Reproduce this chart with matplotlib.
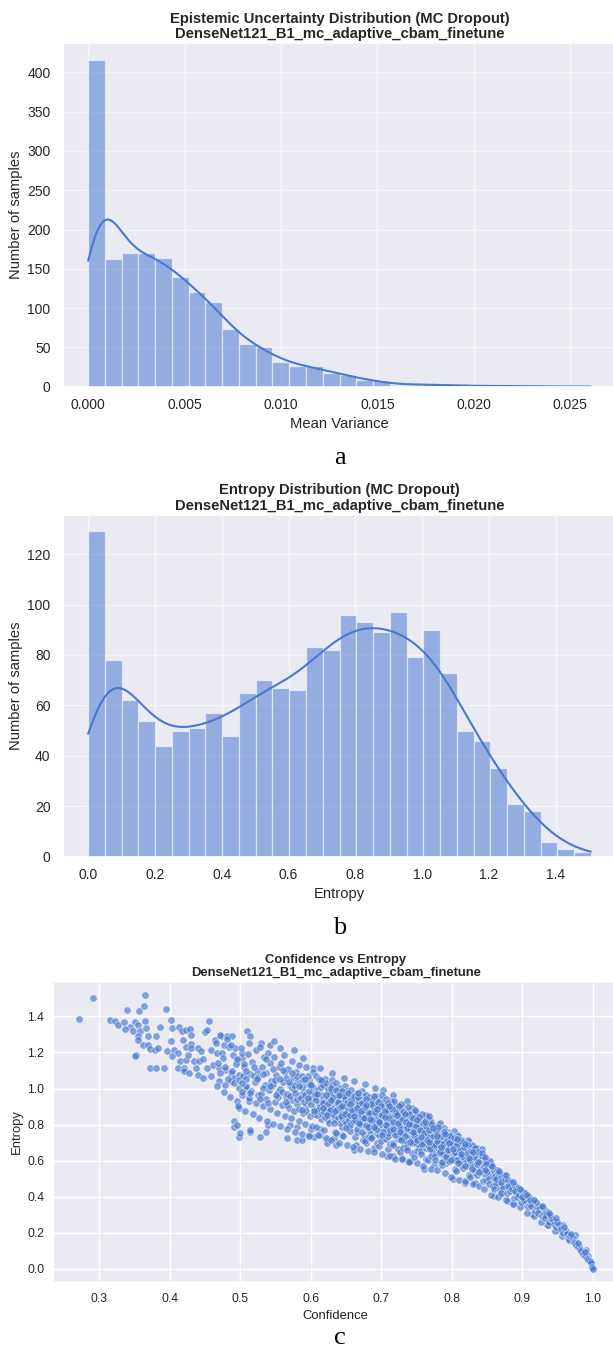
import numpy as np
import matplotlib
matplotlib.use("Agg")
import matplotlib.pyplot as plt
import seaborn as sns

# ---------------- data ----------------
var_edges_max = 0.02607          # largest mean variance (bins from 0 to this)
var_counts = [416, 162, 170, 170, 164, 140, 121, 108, 73, 55, 50, 31, 27, 26, 18,
              15, 8, 7, 2, 2, 4, 2, 1, 1, 1, 1, 1, 0, 0, 1]

ent_edges_max = 1.505            # largest entropy
ent_counts = [129, 78, 62, 54, 44, 50, 51, 57, 48, 65, 70, 67, 66, 83, 82,
              96, 93, 89, 97, 79, 90, 73, 50, 46, 35, 21, 18, 6, 3, 2]

scatter_left = [
    (0.271, 1.387), (0.292, 1.502), (0.316, 1.380), (0.322, 1.376), (0.327, 1.354),
    (0.335, 1.369), (0.340, 1.435), (0.351, 1.369), (0.344, 1.339), (0.337, 1.330),
    (0.357, 1.428), (0.364, 1.456), (0.365, 1.517), (0.365, 1.372), (0.355, 1.354),
    (0.348, 1.317), (0.358, 1.317), (0.355, 1.289), (0.366, 1.335), (0.369, 1.289),
    (0.356, 1.270), (0.362, 1.243), (0.369, 1.243), (0.353, 1.187), (0.351, 1.181),
    (0.373, 1.220), (0.372, 1.113), (0.381, 1.113), (0.379, 1.215), (0.384, 1.224),
    (0.381, 1.289), (0.387, 1.339), (0.395, 1.441), (0.402, 1.378), (0.404, 1.335),
    (0.397, 1.209), (0.392, 1.113), (0.402, 1.261), (0.407, 1.211), (0.414, 1.339),
    (0.417, 1.317), (0.423, 1.322), (0.429, 1.331), (0.431, 1.298), (0.419, 1.270),
    (0.423, 1.233), (0.431, 1.246), (0.412, 1.196), (0.404, 1.178), (0.412, 1.113),
    (0.420, 1.113), (0.415, 1.150), (0.423, 1.159), (0.426, 1.187), (0.431, 1.224),
    (0.420, 1.098), (0.428, 1.085), (0.437, 1.113), (0.434, 1.150), (0.442, 1.150),
    (0.448, 1.165), (0.450, 1.311), (0.453, 1.322), (0.456, 1.372), (0.440, 1.224),
    (0.445, 1.209), (0.459, 1.215), (0.467, 1.196), (0.464, 1.270), (0.473, 1.289),
    (0.477, 1.243), (0.481, 1.293), (0.489, 1.289), (0.493, 1.224), (0.453, 1.113),
    (0.462, 1.131), (0.470, 1.113), (0.478, 1.104), (0.487, 1.085), (0.440, 1.076),
    (0.448, 1.057), (0.459, 1.067), (0.470, 1.039), (0.478, 1.020), (0.487, 1.039),
    (0.492, 1.057), (0.499, 1.076), (0.495, 1.150), (0.503, 1.169), (0.503, 1.196),
    (0.498, 1.002), (0.503, 0.965), (0.495, 0.928), (0.499, 0.891), (0.509, 1.002),
    (0.512, 0.928), (0.492, 0.817), (0.491, 0.789), (0.514, 0.761),
]

scatter_outliers = [
    (0.495, 0.796), (0.499, 0.733), (0.500, 0.751), (0.514, 0.769), (0.528, 0.733),
    (0.536, 0.760), (0.539, 0.796), (0.567, 0.727), (0.581, 0.715), (0.587, 0.715),
    (0.570, 0.796), (0.581, 0.787), (0.597, 0.742), (0.600, 0.778), (0.605, 0.733),
    (0.613, 0.742), (0.613, 0.778), (0.625, 0.715), (0.633, 0.724), (0.636, 0.687),
    (0.623, 0.696), (0.644, 0.742), (0.661, 0.660), (0.664, 0.687), (0.678, 0.696),
    (0.689, 0.669), (0.708, 0.624), (0.716, 0.624), (0.730, 0.615), (0.738, 0.600),
    (0.741, 0.596), (0.761, 0.555), (0.775, 0.573), (0.791, 0.587), (0.802, 0.496),
    (0.819, 0.478), (0.833, 0.478), (0.860, 0.405), (0.869, 0.414), (0.880, 0.378),
    (0.888, 0.360), (0.902, 0.360), (0.913, 0.305), (0.935, 0.242), (0.952, 0.215),
    (0.968, 0.178), (0.980, 0.133), (0.990, 0.087), (0.999, 0.005),
    (0.510, 1.317), (0.514, 1.289), (0.530, 1.252), (0.542, 1.239), (0.548, 1.261),
    (0.557, 1.224), (0.576, 1.215), (0.589, 1.169), (0.603, 1.113), (0.613, 1.113),
    (0.630, 1.085), (0.647, 1.057), (0.661, 1.039), (0.677, 1.026), (0.691, 1.002),
    (0.703, 0.993), (0.716, 0.965), (0.736, 0.928), (0.744, 0.891), (0.763, 0.854),
    (0.780, 0.796), (0.808, 0.742), (0.824, 0.705), (0.841, 0.633), (0.858, 0.542),
    (0.874, 0.505), (0.891, 0.460), (0.907, 0.396), (0.924, 0.333), (0.941, 0.287),
    (0.957, 0.242), (0.974, 0.187), (0.990, 0.105),
]

scatter_mid = [
    (0.467, 1.013), (0.472, 1.087), (0.469, 1.142), (0.474, 1.196), (0.466, 1.251), (0.471, 1.298),
    (0.477, 0.982), (0.483, 1.054), (0.479, 1.118), (0.476, 1.167), (0.484, 1.229), (0.481, 1.274),
    (0.486, 0.953), (0.492, 1.031), (0.488, 1.096), (0.494, 1.138), (0.490, 1.187), (0.487, 1.242),
    (0.497, 0.905), (0.503, 0.982), (0.499, 1.045), (0.505, 1.121), (0.496, 1.163), (0.501, 1.226),
    (0.504, 1.067),
    (0.507, 0.874), (0.512, 0.947), (0.509, 1.013), (0.514, 1.079), (0.506, 1.134), (0.511, 1.193),
    (0.513, 1.254), (0.508, 1.052),
    (0.518, 0.856), (0.523, 0.919), (0.516, 0.988), (0.521, 1.036), (0.524, 1.097), (0.517, 1.148),
    (0.522, 1.211), (0.519, 1.071), (0.525, 0.963),
    (0.527, 0.838), (0.533, 0.902), (0.529, 0.971), (0.535, 1.018), (0.526, 1.062), (0.531, 1.117),
    (0.534, 1.173), (0.528, 1.229), (0.532, 1.004),
    (0.538, 0.817), (0.543, 0.886), (0.536, 0.944), (0.541, 0.992), (0.544, 1.041), (0.537, 1.088),
    (0.542, 1.139), (0.539, 1.196), (0.545, 1.015), (0.540, 0.921),
    (0.547, 0.803), (0.552, 0.862), (0.549, 0.925), (0.554, 0.978), (0.546, 1.027), (0.551, 1.073),
    (0.555, 1.121), (0.548, 1.177), (0.553, 0.951), (0.550, 1.046),
    (0.557, 0.792), (0.563, 0.848), (0.559, 0.907), (0.565, 0.955), (0.556, 0.996), (0.561, 1.038),
    (0.564, 1.092), (0.558, 1.143), (0.562, 1.186), (0.560, 0.981), (0.565, 1.061),
    (0.567, 0.776), (0.572, 0.839), (0.569, 0.893), (0.574, 0.934), (0.566, 0.972), (0.571, 1.017),
    (0.575, 1.059), (0.568, 1.106), (0.573, 1.152), (0.570, 0.958), (0.574, 1.004), (0.566, 0.911),
    (0.578, 0.758), (0.583, 0.821), (0.576, 0.874), (0.581, 0.916), (0.585, 0.962), (0.577, 0.998),
    (0.582, 1.043), (0.579, 1.089), (0.584, 1.131), (0.580, 0.941), (0.576, 1.021), (0.583, 0.887),
    (0.581, 1.068),
    (0.587, 0.745), (0.592, 0.803), (0.589, 0.862), (0.594, 0.905), (0.586, 0.946), (0.591, 0.983),
    (0.595, 1.027), (0.588, 1.072), (0.593, 1.118), (0.590, 0.927), (0.587, 1.006), (0.594, 0.876),
    (0.589, 1.049), (0.592, 0.962),
    (0.597, 0.738), (0.602, 0.792), (0.599, 0.847), (0.604, 0.889), (0.596, 0.928), (0.601, 0.967),
    (0.605, 1.004), (0.598, 1.046), (0.603, 1.089), (0.600, 0.912), (0.597, 0.987), (0.604, 0.861),
    (0.599, 1.026), (0.602, 0.948), (0.596, 1.067),
    (0.611, 0.741), (0.607, 0.786), (0.614, 0.833), (0.609, 0.874), (0.612, 0.916), (0.606, 0.953),
    (0.610, 0.989), (0.615, 1.028), (0.608, 1.072), (0.613, 0.897), (0.606, 0.972), (0.609, 0.851),
    (0.614, 1.011), (0.607, 0.936), (0.612, 1.051), (0.610, 0.878),
    (0.622, 0.728), (0.619, 0.769), (0.625, 0.823), (0.616, 0.858), (0.621, 0.905), (0.618, 0.934),
    (0.624, 0.981), (0.617, 1.017), (0.620, 1.052), (0.623, 0.889), (0.616, 0.963), (0.620, 0.843),
    (0.625, 0.999), (0.617, 0.917), (0.622, 1.033), (0.619, 0.872), (0.624, 0.948),
    (0.629, 0.712), (0.634, 0.758), (0.626, 0.811), (0.632, 0.851), (0.628, 0.884), (0.635, 0.922),
    (0.627, 0.968), (0.633, 0.994), (0.630, 1.046), (0.626, 0.869), (0.631, 0.941), (0.634, 0.829),
    (0.628, 0.978), (0.635, 0.903), (0.630, 1.019), (0.632, 0.857), (0.627, 0.927), (0.633, 0.892),
    (0.640, 0.698), (0.636, 0.755), (0.644, 0.789), (0.638, 0.839), (0.642, 0.871), (0.637, 0.916),
    (0.643, 0.953), (0.641, 0.979), (0.636, 1.031), (0.645, 0.861), (0.639, 0.934), (0.641, 0.811),
    (0.644, 0.972), (0.637, 0.889), (0.642, 1.004), (0.645, 0.838), (0.639, 0.913), (0.643, 0.879),
    (0.638, 0.959),
    (0.651, 0.687), (0.646, 0.734), (0.654, 0.784), (0.648, 0.819), (0.652, 0.866), (0.650, 0.893),
    (0.647, 0.939), (0.655, 0.963), (0.649, 1.015), (0.653, 0.842), (0.646, 0.921), (0.650, 0.806),
    (0.655, 0.947), (0.648, 0.882), (0.651, 0.988), (0.654, 0.826), (0.647, 0.905), (0.652, 0.869),
    (0.649, 0.944), (0.653, 0.884),
    (0.660, 0.673), (0.663, 0.731), (0.656, 0.766), (0.664, 0.814), (0.658, 0.845), (0.662, 0.889),
    (0.659, 0.917), (0.665, 0.951), (0.657, 0.992), (0.661, 0.836), (0.664, 0.907), (0.656, 0.796),
    (0.662, 0.941), (0.658, 0.862), (0.665, 0.973), (0.660, 0.819), (0.657, 0.887), (0.663, 0.856),
    (0.659, 0.924), (0.661, 0.871),
    (0.670, 0.667), (0.674, 0.713), (0.666, 0.761), (0.672, 0.796), (0.668, 0.841), (0.675, 0.868),
    (0.671, 0.912), (0.667, 0.938), (0.673, 0.986), (0.669, 0.824), (0.675, 0.884), (0.666, 0.778),
    (0.672, 0.927), (0.668, 0.849), (0.674, 0.959), (0.670, 0.803), (0.667, 0.873), (0.673, 0.835),
    (0.669, 0.916), (0.671, 0.858), (0.675, 0.744),
    (0.681, 0.655), (0.677, 0.708), (0.684, 0.743), (0.679, 0.791), (0.683, 0.821), (0.676, 0.863),
    (0.680, 0.891), (0.685, 0.934), (0.678, 0.964), (0.682, 0.811), (0.676, 0.879), (0.684, 0.766),
    (0.680, 0.907), (0.677, 0.838), (0.683, 0.952), (0.679, 0.797), (0.685, 0.868), (0.681, 0.829),
    (0.678, 0.896), (0.684, 0.851), (0.682, 0.729), (0.676, 0.921),
    (0.689, 0.648), (0.694, 0.697), (0.687, 0.733), (0.692, 0.779), (0.686, 0.815), (0.695, 0.843),
    (0.690, 0.885), (0.688, 0.911), (0.693, 0.958), (0.691, 0.793), (0.686, 0.866), (0.694, 0.755),
    (0.688, 0.902), (0.692, 0.826), (0.687, 0.939), (0.695, 0.784), (0.690, 0.854), (0.693, 0.809),
    (0.689, 0.881), (0.691, 0.839), (0.686, 0.725), (0.694, 0.906),
]

scatter_core = [
    (0.701, 0.634), (0.697, 0.682), (0.704, 0.724), (0.699, 0.763), (0.703, 0.799), (0.696, 0.834),
    (0.700, 0.868), (0.705, 0.901), (0.698, 0.938), (0.702, 0.783), (0.704, 0.851), (0.697, 0.744),
    (0.701, 0.884), (0.699, 0.816), (0.703, 0.921), (0.696, 0.768), (0.705, 0.839), (0.698, 0.801),
    (0.702, 0.873), (0.697, 0.824), (0.700, 0.709), (0.704, 0.889), (0.701, 0.962), (0.698, 0.857),
    (0.713, 0.628), (0.709, 0.664), (0.706, 0.719), (0.712, 0.747), (0.715, 0.792), (0.708, 0.817),
    (0.711, 0.861), (0.707, 0.884), (0.714, 0.931), (0.706, 0.775), (0.712, 0.833), (0.710, 0.738),
    (0.708, 0.866), (0.714, 0.808), (0.711, 0.902), (0.709, 0.752), (0.713, 0.829), (0.706, 0.783),
    (0.715, 0.855), (0.708, 0.815), (0.712, 0.692), (0.710, 0.879), (0.707, 0.943), (0.711, 0.846),
    (0.719, 0.611), (0.724, 0.663), (0.716, 0.697), (0.722, 0.742), (0.718, 0.771), (0.725, 0.813),
    (0.720, 0.839), (0.717, 0.879), (0.723, 0.908), (0.721, 0.761), (0.716, 0.828), (0.724, 0.718),
    (0.718, 0.855), (0.722, 0.796), (0.717, 0.897), (0.725, 0.747), (0.720, 0.809), (0.723, 0.781),
    (0.719, 0.851), (0.721, 0.795), (0.716, 0.684), (0.724, 0.866), (0.718, 0.929), (0.722, 0.827),
    (0.730, 0.607), (0.726, 0.645), (0.733, 0.693), (0.728, 0.724), (0.734, 0.765), (0.727, 0.792),
    (0.731, 0.833), (0.735, 0.859), (0.729, 0.901), (0.732, 0.742), (0.726, 0.816), (0.733, 0.706),
    (0.728, 0.841), (0.735, 0.774), (0.730, 0.882), (0.727, 0.728), (0.734, 0.798), (0.729, 0.761),
    (0.732, 0.837), (0.726, 0.783), (0.731, 0.669), (0.735, 0.848), (0.728, 0.914), (0.733, 0.821),
    (0.739, 0.593), (0.744, 0.641), (0.736, 0.673), (0.742, 0.718), (0.737, 0.745), (0.745, 0.786),
    (0.740, 0.811), (0.738, 0.851), (0.743, 0.877), (0.741, 0.737), (0.736, 0.797), (0.744, 0.699),
    (0.738, 0.828), (0.742, 0.762), (0.737, 0.867), (0.745, 0.715), (0.740, 0.783), (0.743, 0.754),
    (0.739, 0.824), (0.741, 0.769), (0.736, 0.658), (0.744, 0.834), (0.738, 0.898), (0.742, 0.806),
    (0.750, 0.586), (0.746, 0.622), (0.753, 0.668), (0.748, 0.698), (0.754, 0.739), (0.747, 0.764),
    (0.751, 0.804), (0.755, 0.827), (0.749, 0.868), (0.752, 0.716), (0.746, 0.781), (0.753, 0.687),
    (0.748, 0.812), (0.755, 0.748), (0.750, 0.851), (0.747, 0.702), (0.754, 0.777), (0.749, 0.733),
    (0.752, 0.809), (0.746, 0.755), (0.751, 0.651), (0.755, 0.819), (0.748, 0.881), (0.753, 0.792),
    (0.759, 0.571), (0.764, 0.609), (0.756, 0.654), (0.762, 0.684), (0.757, 0.725), (0.765, 0.749),
    (0.760, 0.788), (0.758, 0.811), (0.763, 0.849), (0.761, 0.702), (0.756, 0.766), (0.764, 0.672),
    (0.758, 0.796), (0.762, 0.734), (0.757, 0.834), (0.765, 0.688), (0.760, 0.761), (0.763, 0.719),
    (0.759, 0.792), (0.761, 0.741), (0.756, 0.638), (0.764, 0.803), (0.758, 0.861), (0.762, 0.776),
    (0.770, 0.556), (0.766, 0.604), (0.773, 0.635), (0.768, 0.676), (0.774, 0.703), (0.767, 0.741),
    (0.771, 0.764), (0.775, 0.799), (0.769, 0.823), (0.772, 0.692), (0.766, 0.749), (0.773, 0.658),
    (0.768, 0.784), (0.775, 0.718), (0.770, 0.814), (0.767, 0.679), (0.774, 0.744), (0.769, 0.709),
    (0.772, 0.768), (0.766, 0.731), (0.771, 0.624), (0.775, 0.791), (0.768, 0.846),
    (0.779, 0.549), (0.784, 0.585), (0.776, 0.627), (0.782, 0.655), (0.777, 0.692), (0.785, 0.716),
    (0.780, 0.751), (0.778, 0.773), (0.783, 0.806), (0.781, 0.669), (0.776, 0.736), (0.784, 0.638),
    (0.778, 0.758), (0.782, 0.706), (0.777, 0.786), (0.785, 0.661), (0.780, 0.719), (0.783, 0.685),
    (0.779, 0.748), (0.781, 0.712), (0.776, 0.604), (0.784, 0.771),
    (0.790, 0.529), (0.786, 0.577), (0.793, 0.606), (0.788, 0.644), (0.794, 0.669), (0.787, 0.704),
    (0.791, 0.726), (0.795, 0.759), (0.789, 0.779), (0.792, 0.653), (0.786, 0.711), (0.793, 0.627),
    (0.788, 0.744), (0.795, 0.683), (0.790, 0.766), (0.787, 0.638), (0.794, 0.706), (0.789, 0.674),
    (0.792, 0.734), (0.786, 0.594),
    (0.799, 0.511), (0.804, 0.555), (0.796, 0.596), (0.802, 0.621), (0.797, 0.657), (0.805, 0.679),
    (0.800, 0.712), (0.798, 0.731), (0.803, 0.764), (0.801, 0.635), (0.796, 0.691), (0.804, 0.604),
    (0.798, 0.724), (0.802, 0.669), (0.797, 0.743), (0.805, 0.625), (0.800, 0.686), (0.803, 0.649),
    (0.799, 0.709),
    (0.810, 0.493), (0.806, 0.544), (0.813, 0.573), (0.808, 0.609), (0.814, 0.632), (0.807, 0.665),
    (0.811, 0.685), (0.815, 0.716), (0.809, 0.735), (0.812, 0.617), (0.806, 0.676), (0.813, 0.592),
    (0.808, 0.704), (0.815, 0.645), (0.810, 0.722), (0.807, 0.601), (0.814, 0.664),
    (0.819, 0.484), (0.824, 0.521), (0.816, 0.561), (0.822, 0.584), (0.817, 0.618), (0.825, 0.638),
    (0.820, 0.669), (0.818, 0.688), (0.823, 0.717), (0.821, 0.598), (0.816, 0.656), (0.824, 0.568),
    (0.818, 0.677), (0.822, 0.631), (0.817, 0.705), (0.825, 0.582),
    (0.830, 0.469), (0.826, 0.511), (0.833, 0.536), (0.828, 0.571), (0.834, 0.591), (0.827, 0.622),
    (0.831, 0.641), (0.835, 0.668), (0.829, 0.685), (0.832, 0.578), (0.826, 0.634), (0.833, 0.549),
    (0.828, 0.659), (0.835, 0.603), (0.830, 0.679),
    (0.839, 0.461), (0.844, 0.486), (0.836, 0.522), (0.842, 0.543), (0.837, 0.575), (0.845, 0.593),
    (0.840, 0.621), (0.838, 0.638), (0.843, 0.662), (0.841, 0.556), (0.836, 0.611), (0.844, 0.529),
    (0.838, 0.628), (0.842, 0.585),
]

scatter_dense_extra = [
    (0.621, 0.962), (0.624, 0.912), (0.627, 0.883), (0.629, 1.003), (0.632, 0.951), (0.634, 0.874),
    (0.636, 0.992), (0.638, 0.927), (0.641, 0.897), (0.643, 0.849), (0.645, 0.985), (0.647, 0.958),
    (0.649, 0.861), (0.651, 0.917), (0.653, 0.976), (0.655, 0.851), (0.657, 0.934), (0.659, 0.881),
    (0.661, 0.958), (0.663, 0.827), (0.665, 0.893), (0.667, 0.952), (0.669, 0.806), (0.671, 0.874),
    (0.673, 0.921), (0.675, 0.839), (0.677, 0.896), (0.679, 0.943), (0.681, 0.787), (0.683, 0.866),
    (0.685, 0.912), (0.687, 0.823), (0.689, 0.958), (0.691, 0.871), (0.693, 0.778), (0.695, 0.927),
    (0.697, 0.812), (0.699, 0.905), (0.701, 0.853), (0.703, 0.757), (0.705, 0.877), (0.707, 0.796),
    (0.709, 0.918), (0.711, 0.835), (0.713, 0.772), (0.715, 0.889), (0.717, 0.812), (0.719, 0.744),
    (0.721, 0.869), (0.723, 0.806), (0.725, 0.901), (0.727, 0.758), (0.729, 0.829), (0.731, 0.871),
    (0.733, 0.734), (0.735, 0.813), (0.737, 0.779), (0.739, 0.858), (0.741, 0.702), (0.743, 0.797),
    (0.745, 0.837), (0.747, 0.744), (0.749, 0.791), (0.751, 0.717), (0.753, 0.842), (0.755, 0.769),
    (0.757, 0.691), (0.759, 0.808), (0.761, 0.754), (0.763, 0.794), (0.765, 0.715), (0.767, 0.771),
    (0.769, 0.662), (0.771, 0.803), (0.773, 0.737), (0.775, 0.688), (0.777, 0.762), (0.779, 0.709),
    (0.781, 0.784), (0.783, 0.648), (0.785, 0.737), (0.787, 0.691), (0.789, 0.757), (0.791, 0.618),
    (0.793, 0.713), (0.795, 0.661), (0.797, 0.736), (0.799, 0.603), (0.801, 0.694), (0.803, 0.728),
    (0.805, 0.646), (0.807, 0.689), (0.809, 0.587), (0.811, 0.657), (0.813, 0.707), (0.815, 0.624),
    (0.817, 0.676), (0.819, 0.571), (0.821, 0.643), (0.823, 0.687), (0.825, 0.604), (0.827, 0.652),
    (0.829, 0.556), (0.831, 0.621), (0.833, 0.668), (0.835, 0.583), (0.837, 0.647), (0.839, 0.539),
    (0.841, 0.604), (0.843, 0.626), (0.845, 0.566), (0.847, 0.607), (0.849, 0.518), (0.851, 0.571),
    (0.853, 0.589), (0.855, 0.536), (0.857, 0.561), (0.859, 0.493), (0.861, 0.532), (0.863, 0.549),
    (0.865, 0.477), (0.867, 0.509),
    (0.6225, 0.851), (0.6285, 0.938), (0.6335, 0.806), (0.6395, 0.963), (0.6445, 0.902),
    (0.6505, 0.781), (0.6555, 0.914), (0.6615, 0.846), (0.6665, 0.977), (0.6725, 0.758),
    (0.6785, 0.907), (0.6835, 0.831), (0.6895, 0.789), (0.6945, 0.884), (0.7005, 0.741),
    (0.7055, 0.843), (0.7115, 0.904), (0.7165, 0.773), (0.7225, 0.851), (0.7285, 0.712),
    (0.7335, 0.858), (0.7395, 0.804), (0.7445, 0.761), (0.7505, 0.827), (0.7565, 0.731),
    (0.7625, 0.816), (0.7675, 0.703), (0.7735, 0.781), (0.7795, 0.738), (0.7845, 0.677),
    (0.7905, 0.747), (0.7955, 0.696), (0.8015, 0.662), (0.8075, 0.719), (0.8125, 0.638),
    (0.8185, 0.694), (0.8245, 0.616), (0.8305, 0.647), (0.8365, 0.592), (0.8425, 0.641),
    (0.8485, 0.553), (0.8545, 0.582), (0.8605, 0.519), (0.8665, 0.531), (0.8725, 0.462),
    (0.8785, 0.493), (0.8845, 0.437), (0.8905, 0.452), (0.8965, 0.408), (0.9025, 0.421),
    (0.9085, 0.389), (0.9145, 0.352), (0.9205, 0.361), (0.9265, 0.318), (0.9325, 0.301),
    (0.9385, 0.283), (0.9445, 0.262), (0.9505, 0.238), (0.9565, 0.214), (0.9625, 0.196),
    (0.9685, 0.168), (0.9745, 0.152), (0.9805, 0.124), (0.9865, 0.097), (0.9925, 0.071),
    (0.9975, 0.036),
    (0.503, 1.032), (0.508, 1.098), (0.514, 0.977), (0.519, 1.121), (0.524, 1.052), (0.528, 0.941),
    (0.533, 1.081), (0.537, 1.163), (0.542, 1.012), (0.546, 1.108), (0.551, 0.963), (0.556, 1.054),
    (0.561, 1.102), (0.565, 0.924), (0.569, 1.036), (0.574, 1.087), (0.578, 0.973), (0.583, 1.013),
    (0.587, 0.878), (0.592, 1.051), (0.596, 0.948), (0.601, 1.021), (0.605, 0.875), (0.609, 0.968),
    (0.614, 1.047), (0.618, 0.892),
]

scatter_tail = [
    (0.846, 0.44), (0.848, 0.49), (0.851, 0.52), (0.853, 0.56), (0.849, 0.59), (0.854, 0.60),
    (0.847, 0.62), (0.852, 0.50), (0.850, 0.54), (0.855, 0.57), (0.849, 0.58), (0.853, 0.47),
    (0.847, 0.55),
    (0.856, 0.41), (0.858, 0.46), (0.861, 0.49), (0.863, 0.52), (0.859, 0.54), (0.864, 0.55),
    (0.857, 0.57), (0.862, 0.47), (0.860, 0.51), (0.865, 0.53), (0.859, 0.44), (0.863, 0.50),
    (0.866, 0.40), (0.868, 0.44), (0.871, 0.47), (0.873, 0.49), (0.869, 0.51), (0.874, 0.52),
    (0.867, 0.54), (0.872, 0.45), (0.870, 0.48), (0.875, 0.50), (0.869, 0.42),
    (0.876, 0.38), (0.878, 0.42), (0.881, 0.45), (0.883, 0.47), (0.879, 0.49), (0.884, 0.48),
    (0.877, 0.52), (0.882, 0.43), (0.880, 0.46), (0.885, 0.44),
    (0.886, 0.36), (0.888, 0.39), (0.891, 0.42), (0.893, 0.44), (0.889, 0.46), (0.894, 0.45),
    (0.887, 0.48), (0.892, 0.40), (0.890, 0.43), (0.895, 0.41),
    (0.896, 0.34), (0.898, 0.37), (0.901, 0.39), (0.903, 0.41), (0.899, 0.43), (0.904, 0.42),
    (0.897, 0.44), (0.902, 0.38), (0.900, 0.40),
    (0.906, 0.31), (0.908, 0.34), (0.911, 0.36), (0.913, 0.38), (0.909, 0.40), (0.914, 0.37),
    (0.907, 0.41), (0.912, 0.35), (0.910, 0.38),
    (0.916, 0.29), (0.918, 0.32), (0.921, 0.34), (0.923, 0.35), (0.919, 0.37), (0.924, 0.33),
    (0.917, 0.38), (0.922, 0.31),
    (0.926, 0.26), (0.928, 0.29), (0.931, 0.31), (0.933, 0.32), (0.929, 0.34), (0.934, 0.30),
    (0.927, 0.35), (0.932, 0.28),
    (0.936, 0.24), (0.938, 0.26), (0.941, 0.28), (0.943, 0.27), (0.939, 0.30), (0.944, 0.25),
    (0.937, 0.31),
    (0.946, 0.21), (0.948, 0.23), (0.951, 0.25), (0.953, 0.24), (0.949, 0.26), (0.954, 0.22),
    (0.947, 0.28),
    (0.956, 0.18), (0.958, 0.20), (0.961, 0.21), (0.963, 0.19), (0.959, 0.23), (0.964, 0.17),
    (0.966, 0.16), (0.968, 0.18), (0.971, 0.17), (0.973, 0.15), (0.969, 0.19), (0.974, 0.14),
    (0.976, 0.13), (0.978, 0.12), (0.981, 0.11), (0.983, 0.10), (0.979, 0.14),
    (0.986, 0.08), (0.988, 0.07), (0.991, 0.06), (0.993, 0.05), (0.989, 0.09),
    (0.995, 0.04), (0.997, 0.03), (0.999, 0.01), (1.000, 0.00),
]

model_name = "DenseNet121_B1_mc_adaptive_cbam_finetune"

# ---------------- style ----------------
sns.set_theme(style="darkgrid")
plt.rcParams["font.family"] = ["Liberation Sans", "DejaVu Sans"]
BLUE = "#4878d0"
TXT = "#262626"


def kde_counts(edges, counts, grid, adjust=1.0):
    centers = (edges[:-1] + edges[1:]) / 2
    n = counts.sum()
    mean = (centers * counts).sum() / n
    std = np.sqrt(((centers - mean) ** 2 * counts).sum() / n)
    bw = adjust * std * n ** (-1 / 5)
    width = edges[1] - edges[0]
    z = (grid[:, None] - centers[None, :]) / bw
    dens = (counts[None, :] * np.exp(-0.5 * z ** 2)).sum(axis=1)
    return dens / (bw * np.sqrt(2 * np.pi)) * width


def hist_panel(ax, edges, counts, adjust, title, xlabel):
    counts = np.asarray(counts, dtype=float)
    ax.bar(edges[:-1], counts, width=np.diff(edges), align="edge", color=BLUE,
           alpha=0.53, edgecolor="white", linewidth=0.9)
    grid = np.linspace(edges[0], edges[-1], 400)
    ax.plot(grid, kde_counts(edges, counts, grid, adjust), color=BLUE, lw=1.5)
    ax.set_title(title, fontsize=10.6, fontweight="bold", color=TXT, pad=4, linespacing=1.1)
    ax.set_xlabel(xlabel, fontsize=10.6, color=TXT, labelpad=4)
    ax.set_ylabel("Number of samples", fontsize=10.6, color=TXT, labelpad=3)
    ax.tick_params(axis="both", length=0, labelsize=10, colors=TXT)
    ax.tick_params(axis="x", pad=8)
    ax.tick_params(axis="y", pad=9)
    ax.grid(True, color="white", alpha=0.6, lw=1)


fig = plt.figure(figsize=(6.13, 13.58), dpi=100)

ax1 = fig.add_axes([0.1028, 0.7152, 0.9021, 0.2529])
var_edges = np.linspace(0, var_edges_max, len(var_counts) + 1)
hist_panel(ax1, var_edges, var_counts, 1.25,
           "Epistemic Uncertainty Distribution (MC Dropout)\n" + model_name, "Mean Variance")

ax2 = fig.add_axes([0.1028, 0.3691, 0.9021, 0.2516])
ent_edges = np.linspace(0, ent_edges_max, len(ent_counts) + 1)
hist_panel(ax2, ent_edges, ent_counts, 1.0,
           "Entropy Distribution (MC Dropout)\n" + model_name, "Entropy")

ax3 = fig.add_axes([0.0861, 0.0557, 0.9233, 0.2214])
pts = (scatter_left + scatter_outliers + scatter_mid + scatter_core
       + scatter_dense_extra + scatter_tail)
conf = [p[0] for p in pts]
ent = [p[1] for p in pts]
ax3.scatter(conf, ent, s=28, color=BLUE, alpha=0.66, edgecolor="white", linewidth=0.5)
ax3.set_title("Confidence vs Entropy\n" + model_name, fontsize=9.4, fontweight="bold",
              color=TXT, pad=4, linespacing=1.1)
ax3.set_xlabel("Confidence", fontsize=9.4, color=TXT, labelpad=3)
ax3.set_ylabel("Entropy", fontsize=9.4, color=TXT, labelpad=3)
ax3.tick_params(axis="both", length=0, labelsize=8.7, colors=TXT)
ax3.tick_params(axis="x", pad=8)
ax3.tick_params(axis="y", pad=6)
ax3.grid(True, color="white", lw=1)

for label, y in (("a", 458), ("b", 928), ("c", 1338)):
    fig.text(0.5546, 1 - y / 1358, label, ha="center", va="center",
             fontsize=19, family=["Liberation Serif", "DejaVu Serif"], color="black")

fig.savefig("out.png", dpi=100, facecolor="white")
